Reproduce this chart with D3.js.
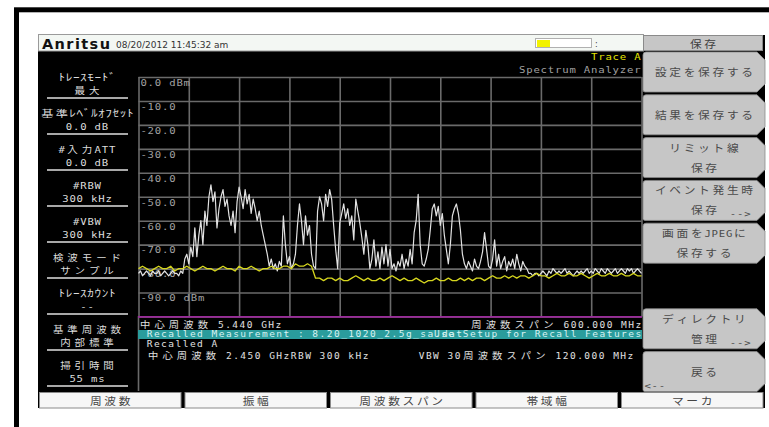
<!DOCTYPE html>
<html>
<head>
<meta charset="utf-8">
<script src="https://cdn.jsdelivr.net/npm/d3@7"></script>
<style>
  body { margin: 0; background: #fff; }
  svg { display: block; }
  .lat { font-family: "DejaVu Sans Mono", monospace; font-size: 9.5px; }
  .cjk { font-family: "Noto Sans CJK JP", sans-serif; font-size: 10px; }
  .kana { font-family: "Noto Sans CJK JP", sans-serif; font-size: 10.2px; }
  .panel .cjk { font-size: 9.4px; }
  .key .cjk { font-size: 10.5px; }
  .small .lat { font-size: 8.5px; }
  .small .cjk { font-size: 9.2px; }
</style>
</head>
<body>
<svg id="screen" width="769" height="427"></svg>
<script>
// ---- Sweep settings (recalled trace: 2.450 GHz centre, 120 MHz span) ----
const freqStartMHz = 2390;
const freqStopMHz = 2510;
const refLevelDbm = 0;
const dbPerDiv = 10;
const divisions = 10;

// ---- Graticule labels ----
const gridLabels = ["0.0 dBm", "-10.0", "-20.0", "-30.0", "-40.0", "-50.0", "-60.0", "-70.0", "-80.0", "-90.0 dBm"];

// ---- Left parameter panel ----
const panelTitles = ["ﾄﾚｰｽﾓｰﾄﾞ", "基準ﾚﾍﾞﾙｵﾌｾｯﾄ", "#入力ATT", "#RBW", "#VBW", "検波モード", "ﾄﾚｰｽｶｳﾝﾄ", "基準周波数", "掃引時間"];
const panelValues = ["最大", "0.0 dB", "0.0 dB", "300 kHz", "300 kHz", "サンプル", "--", "内部標準", "55 ms"];

// ---- Soft keys (right menu) ----
const menuTitle = "保存";
const softKeyLine1 = ["設定を保存する", "結果を保存する", "リミット線", "イベント発生時", "画面をJPEGに", "", "ディレクトリ", "戻る"];
const softKeyLine2 = ["", "", "保存", "保存", "保存する", "", "管理", ""];
const softKeyArrow = ["", "", "", "-->", "", "", "-->", "<--"];

// ---- Bottom tabs ----
const bottomTabs = ["周波数", "振幅", "周波数スパン", "帯域幅", "マーカ"];

// ---- Status texts ----
const headerDate = "08/20/2012 11:45:32 am";
const traceName = "Trace A";
const modeName = "Spectrum Analyzer";
const statusCenter = "中心周波数 5.440 GHz";
const statusSpan = "周波数スパン 600.000 MHz";
const recallBanner = "Recalled Measurement : 8.20_1020_2.5g_sa.dat";
const recallBannerHint = "Use Setup for Recall Features";
const recallName = "Recalled A";
const recallCenter = "中心周波数 2.450 GHzRBW 300 kHz";
const recallSpan = "VBW 30周波数スパン 120.000 MHz";

// ---- Traces (dBm) ----
// Recalled max-hold trace
const traceRecalled = [
  -82,-81,-83,-82,-81,-82,-83,-81,-82,-82,-81,-83,-82,-81,-82,-83,-82,-81,-82,-82,-83,-81,-82,
  -76,-74,-78,-71,-75,-63,-75,
  -66,-60,-70,-56,-62,-50,-45,-52,-48,-63,
  -55,-50,-47,-54,-51,-58,-62,-56,-65,-52,
  -46,-50,-55,-47,-53,-49,-57,-51,-55,-60,
  -56,-62,-66,-70,-74,-79,-76,-80,-78,-81,
  -77,-79,-58,-70,-78,-75,-80,-78,-74,-62,
  -53,-60,-70,-58,-66,-62,-74,-79,-80,-56,
  -50,-53,-60,-49,-54,-47,-51,-62,-72,-80,
  -61,-57,-53,-59,-55,-62,-58,-68,-51,-56,
  -61,-67,-74,-64,-70,-80,-76,-68,-79,-73,
  -80,-71,-78,-70,-79,-72,-80,-78,-81,-77,
  -79,-74,-80,-76,-79,-72,-78,-65,-60,-49,
  -70,-78,-79,-76,-72,-64,-55,-53,-58,-54,
  -62,-57,-66,-72,-78,-70,-58,-55,-53,-57,
  -64,-74,-78,-80,-77,-79,-81,-76,-79,-80,
  -77,-73,-65,-72,-79,-80,-76,-68,-79,-74,
  -80,-77,-75,-81,-77,-79,-76,-80,-74,-78,
  -81,-77,-79,-80,-82,-82,-83,-82,-82,-83,
  -82,-81,-82,-83,-81,-82,-80,-81,-82,-81,
  -82,-81,-80,-82,-81,-82,-83,-82,-81,-82,
  -81,-82,-81,-80,-82,-81,-82,-80,-81,-82,
  -80,-81,-82,-80,-81,-82,-81,-80,-82,-81,
  -80,-81,-82,-80,-81,-80,-82,-81,-80,-81,
  -82
];
// Live trace
const traceLive = [
  -80,-79,-80,-81,-80,-79,-80,-80,-79,-81,-80,-80,-79,-80,-81,-80,-79,-80,-80,-81,-80,-79,
  -80,-80,-81,-79,-80,-80,-79,-80,-81,-80,-80,-79,-80,-80,-79,-79,-80,-78,-79,-79,-78,-79,
  -84,
  -84,-85,-84,-84,-85,-84,-85,-85,-84,-83,-84,-85,-84,-85,-85,-84,-85,-84,
  -83,-84,-85,-84,-85,-85,-84,-85,-86,-85,-85,-84,-85,-85,-84,-85,-85,-84,
  -85,-84,-85,-84,-84,-85,-84,-83,-84,-84,-83,-84,-83,-84,-83,-83,-84,-83,-82,-83,-83,-84,
  -83,-82,-83,-83,-82,-83,-83,-82,-83,-84,-83,-82,-83,-83,-82,-83,-83,-82,-83,-83,-82,-83,-83
];

// ---------------------------------------------------------------
const svg = d3.select("#screen");

// instrument bitmap-font emulation: every glyph sits in a fixed cell
const HALF_CELL = 7.2, FULL_CELL = 14.4;
const isWide = ch => /[\u3000-\u30FF\u4E00-\u9FFF\uFF01-\uFF60]/.test(ch);
const isHalfKana = ch => /[\uFF61-\uFF9F]/.test(ch);

function cellText(parent, str, x, y, anchor, fill) {
  let pos = 0;
  const chars = Array.from(str);
  const stretch = chars.some(isHalfKana) ? 1.3 : 1.12;
  const cells = chars.map(ch => {
    const w = isWide(ch) ? FULL_CELL : HALF_CELL;
    const c = { ch, mid: pos + w / 2 };
    pos += w;
    return c;
  });
  const x0 = anchor === "middle" ? x - pos / 2 : anchor === "end" ? x - pos : x;
  const t = parent.append("text")
    .attr("transform", `translate(${x0},${y}) scale(${stretch},1)`)
    .attr("text-anchor", "middle")
    .attr("fill", fill);
  cells.filter(d => d.ch !== " ").forEach(d => {
    t.append("tspan")
      .attr("x", (d.mid / stretch).toFixed(2))
      .attr("class", isHalfKana(d.ch) ? "kana" : isWide(d.ch) ? "cjk" : "lat")
      .text(d.ch);
  });
  return t;
}

// outer frame
svg.append("rect").attr("x", 16.5).attr("y", 9.8).attr("width", 800).attr("height", 500)
  .attr("fill", "none").attr("stroke", "#000").attr("stroke-width", 5);

// instrument screen
svg.append("rect").attr("x", 38).attr("y", 35).attr("width", 727).attr("height", 373).attr("fill", "#000");

// title bar
svg.append("rect").attr("x", 38.5).attr("y", 34.5).attr("width", 605).attr("height", 16.5)
  .attr("fill", "#f3f7f3").attr("stroke", "#9a9a9a");
svg.append("text").attr("x", 42).attr("y", 48.5)
  .attr("font-family", "DejaVu Sans").attr("font-weight", "bold").attr("font-size", 14.5)
  .attr("letter-spacing", 1.4).attr("fill", "#111").text("Anritsu");
svg.append("text").attr("x", 116).attr("y", 47.5)
  .attr("font-family", "DejaVu Sans").attr("font-size", 9).attr("fill", "#333").text(headerDate);
svg.append("rect").attr("x", 535.5).attr("y", 38.5).attr("width", 56).attr("height", 9)
  .attr("fill", "#fff").attr("stroke", "#b0b0b0");
svg.append("rect").attr("x", 537).attr("y", 40).attr("width", 13).attr("height", 7).attr("fill", "#f2f200");
svg.append("text").attr("x", 595).attr("y", 47).attr("font-family", "DejaVu Sans")
  .attr("font-size", 8).attr("fill", "#333").text(":");

// ---- graticule ----
const x = d3.scaleLinear().domain([freqStartMHz, freqStopMHz]).range([138.5, 641.5]);
const y = d3.scaleLinear().domain([refLevelDbm - dbPerDiv * divisions, refLevelDbm]).range([316.5, 77]);
const spanMHz = freqStopMHz - freqStartMHz;

const grid = svg.append("g");
grid.append("g")
  .attr("transform", `translate(0,${y.range()[0]})`)
  .call(d3.axisBottom(x)
    .tickValues(d3.range(divisions + 1).map(i => freqStartMHz + i * spanMHz / divisions))
    .tickSize(-(y.range()[0] - y.range()[1])).tickFormat(""));
grid.append("g")
  .attr("transform", `translate(${x.range()[0]},0)`)
  .call(d3.axisLeft(y)
    .tickValues(d3.range(divisions + 1).map(i => refLevelDbm - i * dbPerDiv))
    .tickSize(-(x.range()[1] - x.range()[0])).tickFormat(""));
grid.selectAll(".domain").remove();
grid.selectAll(".tick line").attr("stroke", "#6a6a6a").attr("stroke-width", 1.6);

// extension of the left border down past the status lines
svg.append("line").attr("x1", 138.5).attr("x2", 138.5).attr("y1", 316).attr("y2", 391)
  .attr("stroke", "#6a6a6a").attr("stroke-width", 1.6);

// level labels, each under its graticule line
gridLabels.forEach((lab, i) => {
  cellText(svg, lab, 140, y(refLevelDbm - i * dbPerDiv) + 8.8, "start", "#a0a0a0");
});

// ---- traces ----
const freqAt = (i, arr) => freqStartMHz + i * spanMHz / (arr.length - 1);
const traceLine = d3.line().x((d, i, arr) => x(freqAt(i, arr))).y(d => y(d));

svg.append("path").datum(traceRecalled).attr("d", traceLine)
  .attr("fill", "none").attr("stroke", "#e2e2e2").attr("stroke-width", 1.2).attr("stroke-linejoin", "round");
svg.append("path").datum(traceLive).attr("d", traceLine)
  .attr("fill", "none").attr("stroke", "#d6d61e").attr("stroke-width", 1.3).attr("stroke-linejoin", "round");

// bottom edge of graticule
svg.append("line").attr("x1", 138).attr("x2", 642).attr("y1", 316.8).attr("y2", 316.8)
  .attr("stroke", "#9a2a9a").attr("stroke-width", 1.8);

// trace / mode names
cellText(svg, traceName, 641, 60, "end", "#e4e400");
cellText(svg, modeName, 641, 73, "end", "#a0a0a0");

// ---- status lines ----
const status = svg.append("g").attr("class", "small");
cellText(status, statusCenter, 138, 328, "start", "#e0e0e0");
cellText(status, statusSpan, 642, 328, "end", "#e0e0e0");
status.append("rect").attr("x", 138).attr("y", 330).attr("width", 504).attr("height", 9).attr("fill", "#2a9c9c");
cellText(status, recallBanner, 146, 337, "start", "#d8f2f2");
cellText(status, recallBannerHint, 642, 337, "end", "#d8f2f2");
cellText(status, recallName, 146, 347, "start", "#e0e0e0");
cellText(status, recallCenter, 146, 358.5, "start", "#e0e0e0");
cellText(status, recallSpan, 418, 358.5, "start", "#e0e0e0");

// ---- left parameter panel ----
const panel = svg.append("g").attr("class", "panel");
panelTitles.forEach((t, k) => {
  const sepY = 98 + 36 * k;
  cellText(panel, t, 87, sepY - 16.6, "middle", "#dcdcdc");
  cellText(panel, panelValues[k], 87, sepY - 4.3, "middle", "#dcdcdc");
  panel.append("line").attr("x1", 47).attr("x2", 128).attr("y1", sepY).attr("y2", sepY)
    .attr("stroke", "#a8a8a8").attr("stroke-width", 2);
});

// ---- right soft-key menu ----
const menu = svg.append("g").attr("class", "key");
menu.append("rect").attr("x", 643.5).attr("y", 35.5).attr("width", 119).attr("height", 15)
  .attr("fill", "#c6c6c6").attr("stroke", "#8a8a8a");
cellText(menu, menuTitle, 703, 47.5, "middle", "#404040");

const keyLeft = 643, keyRight = 765, keyH = 40, cut = 8;
const keyPath = top => {
  const b = top + keyH;
  return `M${keyLeft},${top + 3} Q${keyLeft},${top} ${keyLeft + 3},${top} L${keyRight - cut},${top} ` +
         `L${keyRight},${top + cut} L${keyRight},${b - cut} L${keyRight - cut},${b} ` +
         `L${keyLeft + 2},${b} Q${keyLeft},${b} ${keyLeft},${b - 2} Z`;
};
softKeyLine1.forEach((l1, k) => {
  if (!l1) return;
  const top = 52 + 42.8 * k;
  menu.append("path").attr("d", keyPath(top)).attr("fill", "#c6c6c6").attr("stroke", "#8c8c8c").attr("stroke-width", 0.8);
  if (softKeyLine2[k]) {
    cellText(menu, l1, 704, top + 14, "middle", "#4a4a4a");
    cellText(menu, softKeyLine2[k], 704, top + 34, "middle", "#4a4a4a");
  } else {
    cellText(menu, l1, 704, top + 24, "middle", "#4a4a4a");
  }
  if (softKeyArrow[k] === "-->") cellText(menu, softKeyArrow[k], 751, top + 37, "end", "#4a4a4a");
  if (softKeyArrow[k] === "<--") cellText(menu, softKeyArrow[k], 644, top + 37, "start", "#4a4a4a");
});

// ---- bottom tabs ----
const tabs = svg.append("g").attr("class", "key");
const tabW = 142.5, tabGap = 3.0;
bottomTabs.forEach((t, i) => {
  const x0 = 39 + i * (tabW + tabGap);
  tabs.append("rect").attr("x", x0 + 0.5).attr("y", 392.5).attr("width", tabW - 1).attr("height", 15.5)
    .attr("fill", "#f6f6f6").attr("stroke", "#8a8a8a");
  cellText(tabs, t, x0 + tabW / 2, 405, "middle", "#444");
});
</script>
</body>
</html>
